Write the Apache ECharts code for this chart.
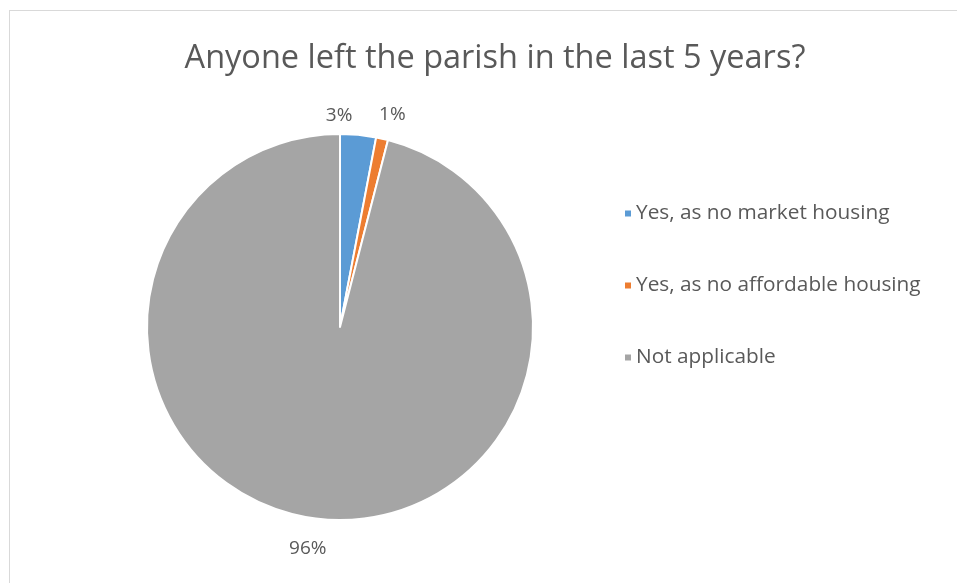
<!DOCTYPE html>
<html><head><meta charset="utf-8">
<script src="https://cdn.jsdelivr.net/npm/echarts@6/dist/echarts.min.js"></script>
<style>
html,body{margin:0;padding:0;background:#fff;}
#frame{position:absolute;left:9px;top:10px;width:960px;height:600px;border-left:1px solid #d9d9d9;border-top:1px solid #d9d9d9;}
#c{position:absolute;left:0;top:0;width:957px;height:583px;}
</style></head>
<body><div id="frame"></div><div id="c"></div>
<script>
const titleText = 'Anyone left the parish in the last 5 years?';
const categories = ['Yes, as no market housing', 'Yes, as no affordable housing', 'Not applicable'];
const values = [3, 1, 96];
const colors = ['#5B9BD5', '#ED7D31', '#A5A5A5'];
// label nudges (style only), mimicking the reference's best-fit label placement
const labelShift = [[-39, -1], [-12, -6], [18, 12]];

const chart = echarts.init(document.getElementById('c'));
chart.setOption({
  animation: false,
  title: {text: titleText, left: 490, top: 37, textAlign: 'center',
    textStyle: {fontFamily: 'Open Sans', fontSize: 32.5, fontWeight: 'normal', color: '#595959'}},
  legend: {orient: 'vertical', left: 618, top: 198, itemGap: 51, itemWidth: 8, itemHeight: 8,
    icon: 'rect', data: categories,
    textStyle: {fontFamily: 'Open Sans', fontSize: 20.8, color: '#595959', padding: [0,0,0,-1]}},
  series: [{
    type: 'pie', center: [340, 327], radius: 193, startAngle: 90, clockwise: true,
    avoidLabelOverlap: false,
    data: categories.map((n, i) => ({name: n, value: values[i], itemStyle: {color: colors[i]}})),
    itemStyle: {borderColor: '#fff', borderWidth: 2},
    label: {show: true, position: 'outside', formatter: '{d}%', fontFamily: 'Open Sans', fontSize: 19, color: '#595959'},
    labelLine: {show: false, length: 18, length2: 0},
    labelLayout: p => ({dx: labelShift[p.dataIndex][0], dy: labelShift[p.dataIndex][1], hideOverlap: false}),
    emphasis: {disabled: true}
  }]
});
</script></body></html>
